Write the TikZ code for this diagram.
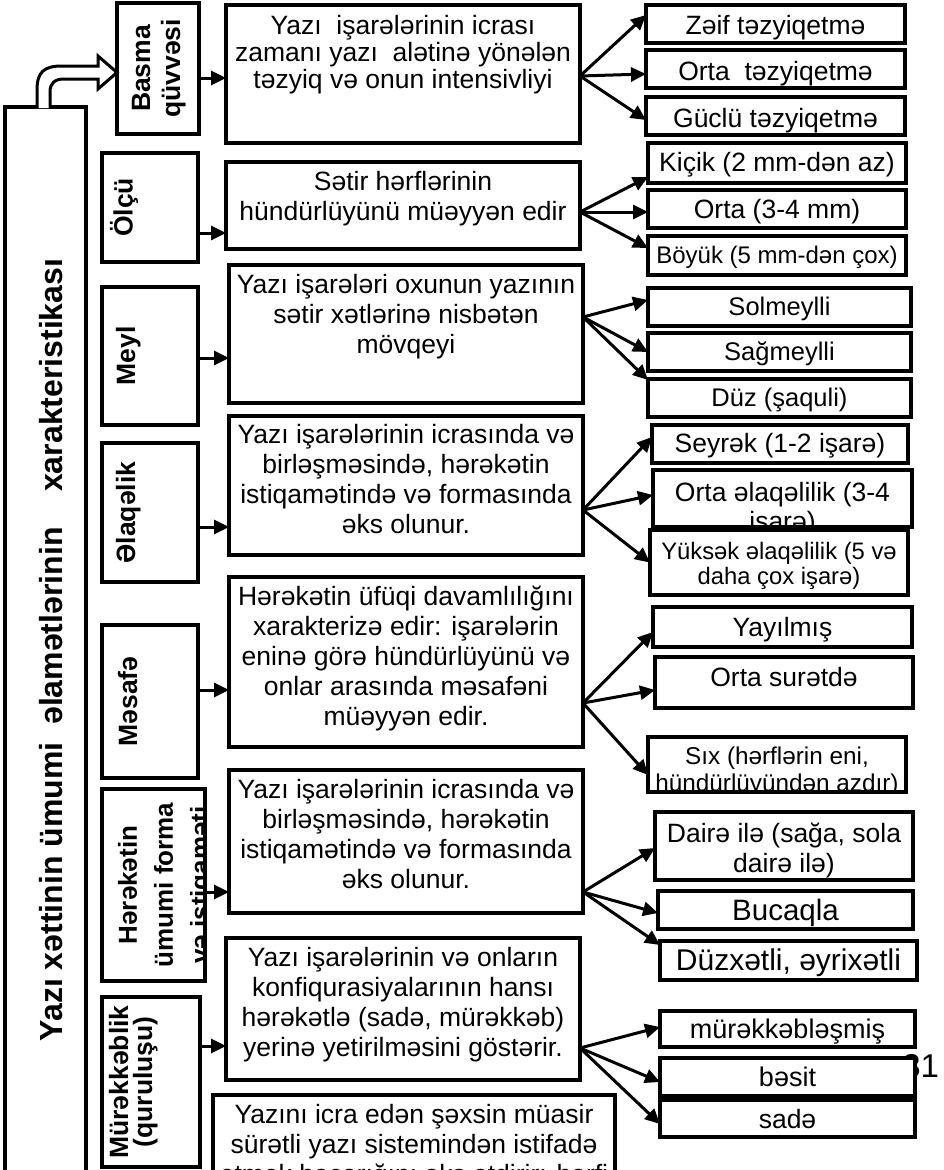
\documentclass[tikz,border=0pt]{standalone}
\usepackage{fontspec}
\setmainfont{Liberation Sans}
\usetikzlibrary{arrows.meta,calc}
\tikzset{
  base/.style={draw=black, fill=white, inner sep=0pt, outer sep=0pt, rectangle},
  lbox/.style={base, line width=3.6pt},
  mbox/.style={base, line width=3.8pt},
  rbox/.style={base, line width=4.2pt},
  txtbase/.style={draw=none, fill=none, inner sep=0pt, outer sep=0pt, minimum width=0pt, minimum height=0pt, align=center, text=black},
  lbox txt/.style={txtbase, rotate=90, font=\fontsize{26.5}{30}\selectfont\bfseries},
  mbox txt/.style={txtbase, font=\fontsize{26.5}{30}\selectfont},
  rbox txt/.style={txtbase, font=\fontsize{26.5}{29}\selectfont},
  arr/.style={line width=3pt, -{Triangle[length=15pt,width=14pt]}},
  hollow/.style={line width=3pt, fill=white, line join=miter},
}
% #1 text options, #2 name, #3 x1, #4 y1, #5 x2, #6 y2, #7 style, #8 dy, #9 text
\newcommand\mybox[9][]{%
  \node[#7, anchor=north west, minimum width={#5pt-#3pt}, minimum height={#6pt-#4pt},
    path picture={\node[#7 txt, anchor=north, #1] (#2-t) at ([yshift=-#8pt]path picture bounding box.north) {#9};}]
    (#2) at (#3,#4) {};}
% #1 text options, #2 name, #3 x1, #4 y1, #5 x2, #6 y2, #7 pad, #8 text
\newcommand\myleftbox[8][]{%
  \node[lbox, anchor=north west, minimum width={#5pt-#3pt}, minimum height={#6pt-#4pt},
    path picture={\node[lbox txt, anchor=north, #1] (#2-t) at ([xshift=#7pt]path picture bounding box.west) {#8};}]
    (#2) at (#3,#4) {};}
\begin{document}
\begin{tikzpicture}[x=1pt,y=-1pt]
\path[use as bounding box] (0,0) rectangle (944,1170);
\fill[white] (0,0) rectangle (944,1170);
\clip (0,0) rectangle (944,1170);

% big box
\node[lbox, anchor=north west, minimum width=81pt, minimum height=1110pt] (big) at (5,107) {};
\node[txtbase, rotate=90, anchor=base, font=\fontsize{32}{36}\selectfont\bfseries] (bigt) at (62,650)
  {Yazı xəttinin ümumi\ \ əlamətlərinin\ \ \ \ xarakteristikası};

% left boxes
\myleftbox{basma}{117}{3}{199}{134}{15}{Basma\\qüvvəsi}
\myleftbox{olcu}{102}{153}{198}{262}{8}{Ölçü}
\myleftbox{meyl}{102}{287}{198}{425}{14}{Meyl}
\myleftbox{ela}{102}{443}{198}{582}{14}{Əlaqəlik}
\myleftbox{mes}{102}{625}{198}{778}{16}{Məsafə}
\myleftbox[font=\fontsize{26}{36}\selectfont\bfseries]{her}{102}{789}{205}{981}{16}{Hərəkətin\\ümumi forma\\və istiqaməti}
\myleftbox[font=\fontsize{26.5}{24}\selectfont\bfseries]{mur}{102}{997}{200}{1167}{7}{Mürəkkəblik\\(quruluşu)}

% hollow arrow from big box to Basma
\coordinate (hs1) at ($(big.north west)+(32,1)$);
\coordinate (hs2) at ($(big.north west)+(45,1)$);
\coordinate (ht) at ($(basma.west)+(0,4)$);
\draw[hollow] (hs1) -- (37,90) .. controls (37,72) and (44,66) .. (62,66) -- (98,66) -- (98,56) -- (ht)
  -- (98,89) -- (98,79) -- (64,79) .. controls (55,79) and (50,83) .. (50,92) -- (hs2);

% middle boxes
\mybox[font=\fontsize{26.5}{27}\selectfont]{m1}{226}{5}{580}{143}{mbox}{10}{Yazı\ \ işarələrinin icrası\\zamanı yazı\ \ alətinə yönələn\\təzyiq və onun intensivliyi}
\mybox{m2}{226}{162}{580}{249}{mbox}{9}{Sətir hərflərinin\\hündürlüyünü müəyyən edir}
\mybox{m3}{229}{265}{583}{403}{mbox}{9}{Yazı işarələri oxunun yazının\\sətir xətlərinə nisbətən\\mövqeyi}
\mybox{m4}{229}{416}{583}{555}{mbox}{8}{Yazı işarələrinin icrasında və\\birləşməsində, hərəkətin\\istiqamətində və formasında\\əks olunur.}
\mybox{m5}{229}{577}{583}{747}{mbox}{9}{Hərəkətin üfüqi davamlılığını\\xarakterizə edir: işarələrin\\eninə görə hündürlüyünü və\\onlar arasında məsafəni\\müəyyən edir.}
\mybox{m6}{229}{770}{583}{913}{mbox}{9}{Yazı işarələrinin icrasında və\\birləşməsində, hərəkətin\\istiqamətində və formasında\\əks olunur.}
\mybox{m7}{226}{938}{580}{1080}{mbox}{9}{Yazı işarələrinin və onların\\konfiqurasiyalarının hansı\\hərəkətlə (sadə, mürəkkəb)\\yerinə yetirilməsini göstərir.}
\mybox{m8}{213}{1095}{615}{1230}{mbox}{9}{Yazını icra edən şəxsin müasir\\sürətli yazı sistemindən istifadə\\etmək bacarığını əks etdirir: hərfi}

% right boxes
\mybox{z1}{646}{5}{905}{43}{rbox}{10}{Zəif təzyiqetmə}
\mybox{z2}{646}{50}{905}{88}{rbox}{11}{Orta\ \ təzyiqetmə}
\mybox{z3}{646}{97}{905}{135}{rbox}{11}{Güclü təzyiqetmə}
\mybox{k1}{648}{143}{906}{183}{rbox}{9}{Kiçik (2 mm-dən az)}
\mybox{k2}{648}{190}{906}{228}{rbox}{9}{Orta (3-4 mm)}
\mybox[font=\fontsize{24}{27}\selectfont]{k3}{648}{236}{906}{275}{rbox}{10}{Böyük (5 mm-dən çox)}
\mybox[font=\fontsize{25.5}{28}\selectfont]{s1}{648}{288}{911}{326}{rbox}{9}{Solmeylli}
\mybox[font=\fontsize{25.5}{28}\selectfont]{s2}{648}{333}{911}{371}{rbox}{9}{Sağmeylli}
\mybox[font=\fontsize{25.5}{28}\selectfont]{s3}{648}{379}{911}{417}{rbox}{9}{Düz (şaquli)}
\mybox{e1}{652}{425}{908}{463}{rbox}{8}{Seyrək (1-2 işarə)}
\mybox{e2}{653}{470}{912}{527}{rbox}{12}{Orta əlaqəlilik (3-4\\işarə)}
\mybox[font=\fontsize{23.8}{25}\selectfont]{e3}{650}{530}{908}{595}{rbox}{12}{Yüksək əlaqəlilik (5 və\\daha çox işarə)}
\mybox{y1}{653}{607}{912}{647}{rbox}{10}{Yayılmış}
\mybox{y2}{655}{657}{913}{708}{rbox}{10}{Orta surətdə}
\mybox[font=\fontsize{24.3}{27}\selectfont]{y3}{648}{737}{906}{792}{rbox}{10}{Sıx (hərflərin eni,\\hündürlüyündən azdır)}
\mybox[font=\fontsize{26.5}{30}\selectfont]{d1}{655}{812}{913}{880}{rbox}{11}{Dairə ilə (sağa, sola\\dairə ilə)}
\mybox[font=\fontsize{29.5}{33}\selectfont]{d2}{658}{891}{913}{929}{rbox}{8}{Bucaqla}
\mybox[font=\fontsize{30}{33}\selectfont]{d3}{660}{941}{917}{980}{rbox}{8}{Düzxətli, əyrixətli}
\mybox[font=\fontsize{27}{30}\selectfont]{t1}{660}{1011}{915}{1047}{rbox}{8}{mürəkkəbləşmiş}
\node[txtbase, anchor=base east, font=\fontsize{33}{36}\selectfont] (pg) at (939,1077) {31};
\mybox[font=\fontsize{27}{30}\selectfont]{t2}{660}{1058}{915}{1096}{rbox}{9}{bəsit}
\mybox[font=\fontsize{26.5}{30}\selectfont]{t3}{660}{1100}{915}{1137}{rbox}{9}{sadə}

% arrows left -> middle
\draw[arr] ([yshift=-9.5pt]basma.east) -- ([yshift=-9.5pt]basma.east -| m1.west);
\draw[arr] ([yshift=-25.5pt]olcu.east) -- ([yshift=-25.5pt]olcu.east -| m2.west);
\draw[arr] ([yshift=-2pt]meyl.east) -- ([yshift=-2pt]meyl.east -| m3.west);
\draw[arr] ([yshift=-14.5pt]ela.east) -- ([yshift=-14.5pt]ela.east -| m4.west);
\draw[arr] ([yshift=11.5pt]mes.east) -- ([yshift=11.5pt]mes.east -| m5.west);
\draw[arr] ([yshift=-7pt]her.east) -- ([yshift=-7pt]her.east -| m6.west);
\draw[arr] ([yshift=36pt]mur.east) -- ([yshift=36pt]mur.east -| m7.west);

% arrows middle -> right
\draw[arr] ([yshift=-2pt]m1.east) -- ([yshift=9pt]z1.west);
\draw[arr] ([yshift=-2pt]m1.east) -- ([yshift=-5pt]z2.west);
\draw[arr] ([yshift=-2pt]m1.east) -- ([yshift=-4pt]z3.west);

\draw[arr] ([yshift=-6.5pt]m2.east) -- ([yshift=-14pt]k1.west);
\draw[arr] ([yshift=-6.5pt]m2.east) -- ([yshift=-3pt]k2.west);
\draw[arr] ([yshift=-6.5pt]m2.east) -- ([yshift=7.5pt]k3.west);

\draw[arr] ([yshift=17pt]m3.east) -- ([yshift=7pt]s1.west);
\draw[arr] ([yshift=17pt]m3.east) -- ([yshift=0pt]s2.west);
\draw[arr] ([yshift=17pt]m3.east) -- ([yshift=18pt]s3.west);

\draw[arr] ([yshift=-24.5pt]m4.east) -- ([yshift=7pt]e1.west);
\draw[arr] ([yshift=-24.5pt]m4.east) -- ([yshift=3.5pt]e2.west);
\draw[arr] ([yshift=-24.5pt]m4.east) -- ([yshift=0pt]e3.west);

\draw[arr] ([yshift=-41pt]m5.east) -- ([yshift=-5pt]y1.west);
\draw[arr] ([yshift=-41pt]m5.east) -- ([yshift=-7.5pt]y2.west);
\draw[arr] ([yshift=-41pt]m5.east) -- ([yshift=-10.5pt]y3.west);

\draw[arr] ([yshift=-50.5pt]m6.east) -- ([yshift=-2pt]d1.west);
\draw[arr] ([yshift=-50.5pt]m6.east) -- ([yshift=-3pt]d2.west);
\draw[arr] ([yshift=-50.5pt]m6.east) -- ([yshift=15.5pt]d3.west);

\draw[arr] ([yshift=-39pt]m7.east) -- ([yshift=2pt]t1.west);
\draw[arr] ([yshift=-39pt]m7.east) -- ([yshift=-5pt]t2.west);
\draw[arr] ([yshift=-39pt]m7.east) -- ([yshift=-5.5pt]t3.west);
\end{tikzpicture}
\end{document}
